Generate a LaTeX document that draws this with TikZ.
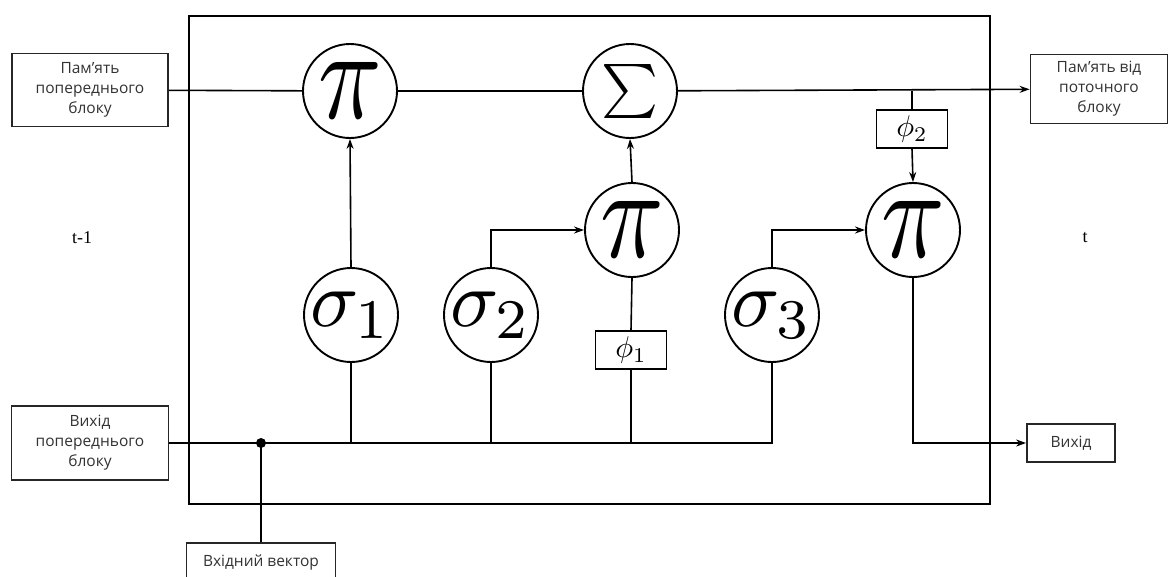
\documentclass[tikz,border=0pt]{standalone}
\usepackage{fontspec}
\setsansfont{Open Sans}
\newfontfamily\tserif{Liberation Serif}
\usetikzlibrary{arrows.meta}
\begin{document}
\begin{tikzpicture}[x=1pt,y=-1pt,
  op/.style={circle,draw,line width=1.9pt,minimum size=94pt,inner sep=0pt,fill=white},
  lbl/.style={draw,line width=1.8pt,draw=black!85,text=black!80,font=\sffamily\fontsize{15.5}{20}\selectfont,align=center,inner sep=0pt,fill=white},
  phibox/.style={draw,line width=1.8pt,minimum width=71pt,minimum height=38pt,inner sep=0pt,fill=white},
  wire/.style={line width=1.6pt},
  arr/.style={wire,-{Stealth[length=10pt,width=7pt]}}]
\useasboundingbox (0,0) rectangle (1172,576);
\draw[line width=2pt] (189,16) rectangle (990,504);

% boxes
\node[lbl,minimum width=156pt,minimum height=73pt] (memprev) at (90,90) {Пам'ять\\попереднього\\блоку};
\node[lbl,minimum width=137pt,minimum height=69pt] (memcur) at (1099,89) {Пам'ять від\\поточного\\блоку};
\node[lbl,minimum width=157pt,minimum height=74pt] (outprev) at (90,443) {Вихід\\попереднього\\блоку};
\node[lbl,minimum width=88pt,minimum height=38pt] (out) at (1071,443) {Вихід};
\node[lbl,minimum width=149pt,minimum height=38pt] (inp) at (261,562) {Вхідний вектор};

% operators
\node[op] (p1) at (350,91) {\scalebox{10.5}[13]{$\pi$}};
\node[op] (s) at (630,91) {\scalebox{5.4}{$\sum$}};
\node[op] (p2) at (632,230) {\scalebox{10.5}[13]{$\pi$}};
\node[op] (p3) at (913,230) {\scalebox{10.5}[13]{$\pi$}};
\node[op] (g1) at (351,315) {\scalebox{8}{$\sigma_1$}};
\node[op] (g2) at (491,315) {\scalebox{8}{$\sigma_2$}};
\node[op] (g3) at (772,315) {\scalebox{8}{$\sigma_3$}};
\node[phibox] (f1) at (631,350) {\scalebox{3}{$\phi_1$}};
\node[phibox] (f2) at (912,129) {\scalebox{3}{$\phi_2$}};

\node[font=\tserif\fontsize{18}{18}\selectfont] (tm1) at (82,238) {t-1};
\node[font=\tserif\fontsize{18}{18}\selectfont] (tt) at (1085,238) {t};

% top memory line
\draw[wire] (memprev) -- (p1);
\draw[wire] (p1) -- (s);
\draw[arr] (s) -- (memcur);
\coordinate (jtop) at (f2.north |- s.east);
\draw[wire] (jtop) -- (f2.north);
\draw[arr] (f2.south) -- (p3.north);

% vertical links
\draw[arr] (g1.north) -- (p1.south);
\draw[arr] (p2.north) -- (s.south);
\draw[wire] (f1.north) -- (p2.south);
\draw[arr] (g2.north) |- (p2.west);
\draw[arr] (g3.north) |- (p3.west);

% bus
\coordinate (dot) at (261,443);
\draw[wire] (outprev.east) -| (g3.south);
\draw[wire] (g1.south) -- (g1.south |- dot);
\draw[wire] (g2.south) -- (g2.south |- dot);
\draw[wire] (f1.south) -- (f1.south |- dot);
\fill (dot) circle (5pt);
\draw[wire] (dot) -- (inp.north);
\draw[arr] (p3.south) |- (out.west);
\end{tikzpicture}
\end{document}
